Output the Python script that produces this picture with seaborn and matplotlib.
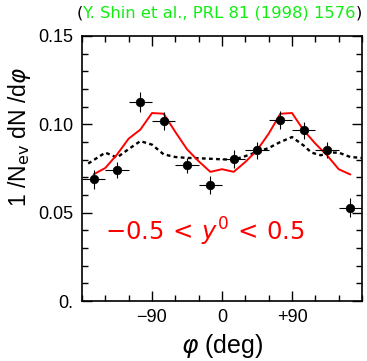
import numpy as np
import pandas as pd
import seaborn as sns
import matplotlib.pyplot as plt
from matplotlib.ticker import FixedLocator, MultipleLocator, FuncFormatter

# data points (Shin et al.)
phi_pts = [-165, -135, -105, -75, -45, -15, 15, 45, 75, 105, 135, 165]
dn_pts = [0.0688, 0.0744, 0.1126, 0.1019, 0.0767, 0.0655, 0.0804, 0.0853, 0.1023, 0.0966, 0.0857, 0.0529]
err_x = [15] * 12
err_y = [0.0052, 0.0045, 0.0055, 0.0052, 0.0045, 0.0050, 0.0050, 0.0048, 0.0050, 0.0050, 0.0045, 0.0052]

# model (red solid)
phi_red = [-165, -150, -135, -120, -105, -90, -75, -60, -45, -30, -15, 0,
           15, 30, 45, 60, 75, 90, 105, 120, 135, 150, 165]
dn_red = [0.0717, 0.0753, 0.0829, 0.0919, 0.0970, 0.1064, 0.1060, 0.0957, 0.0859, 0.0791, 0.0731, 0.0746,
          0.0731, 0.0787, 0.0853, 0.0947, 0.1060, 0.1064, 0.0966, 0.0891, 0.0825, 0.0746, 0.0716]

# model (black dotted)
phi_dot = [-172, -150, -135, -120, -105, -90, -75, -60, -45, -30, -15, 0,
           15, 30, 45, 60, 75, 90, 105, 115, 127, 140, 150, 165, 180]
dn_dot = [0.0778, 0.0840, 0.0812, 0.0860, 0.0905, 0.0885, 0.0830, 0.0815, 0.0810, 0.0808, 0.0805, 0.0802,
          0.0800, 0.0820, 0.0844, 0.0866, 0.0900, 0.0928, 0.0880, 0.0840, 0.0825, 0.0840, 0.0840, 0.0815, 0.0810]

df_pts = pd.DataFrame({'phi': phi_pts, 'dn': dn_pts})
df_red = pd.DataFrame({'phi': phi_red, 'dn': dn_red})
df_dot = pd.DataFrame({'phi': phi_dot, 'dn': dn_dot})

sns.set_style('ticks')
plt.rcParams['font.family'] = ['Liberation Sans', 'DejaVu Sans']
plt.rcParams['mathtext.fontset'] = 'dejavusans'
plt.rcParams['text.color'] = 'black'
plt.rcParams['axes.labelcolor'] = 'black'
plt.rcParams['xtick.color'] = 'black'
plt.rcParams['ytick.color'] = 'black'

fig = plt.figure(figsize=(3.67, 3.61), dpi=100)
ax = fig.add_axes([0.2234, 0.1662, 0.763, 0.7341])

sns.lineplot(data=df_dot, x='phi', y='dn', ax=ax, color='black', linewidth=1.7,
             linestyle=(0, (1.6, 1.4)), sort=False)
sns.lineplot(data=df_red, x='phi', y='dn', ax=ax, color='red', linewidth=1.4, sort=False)
ax.errorbar(phi_pts, dn_pts, xerr=err_x, yerr=err_y, fmt='none', ecolor='black', elinewidth=0.8)
sns.scatterplot(data=df_pts, x='phi', y='dn', ax=ax, color='black', s=38, edgecolor='black', zorder=5)

ax.set_xlim(-180, 180)
ax.set_ylim(0, 0.15)
ax.xaxis.set_major_locator(FixedLocator([-90, 0, 90]))
ax.xaxis.set_minor_locator(MultipleLocator(30))
ax.xaxis.set_major_formatter(FuncFormatter(lambda v, p: {-90: '\u221290', 0: '0', 90: '+90'}.get(int(round(v)), '')))
ax.yaxis.set_major_locator(MultipleLocator(0.05))
ax.yaxis.set_minor_locator(MultipleLocator(0.01))
ax.yaxis.set_major_formatter(FuncFormatter(lambda v, p: '0.' if abs(v) < 1e-9 else f'{v:.2f}'))

ax.tick_params(which='both', direction='in', top=True, right=True, labelsize=13, width=1)
ax.tick_params(which='major', length=7, pad=6)
ax.tick_params(which='minor', length=4)
for s in ax.spines.values():
    s.set_linewidth(1.2)
    s.set_color('black')

ax.set_xlabel(r'$\varphi$ (deg)', fontsize=18)
ax.xaxis.set_label_coords(0.5, -0.118)
ax.set_ylabel(r'1 /N$_{\rm ev}$ dN /d$\varphi$', fontsize=16.5)
ax.yaxis.set_label_coords(-0.175, 0.617)

ax.text(0.082, 0.26, r'$-0.5\,<\,y^0\,<\,0.5$', transform=ax.transAxes, color='red', fontsize=17.5,
        ha='left', va='center')

close = fig.text(0.987, 0.965, ')', color='black', fontsize=11.8, ha='right', va='center',
                 family='DejaVu Sans')
body = ax.annotate('Y. Shin et al., PRL 81 (1998) 1576', xy=(0, 0.5), xycoords=close, color='#11ee11',
                   fontsize=11.8, ha='right', va='center', family='DejaVu Sans', annotation_clip=False)
ax.annotate('(', xy=(0, 0.5), xycoords=body, color='black', fontsize=11.8, ha='right', va='center',
            family='DejaVu Sans', annotation_clip=False)

fig.savefig('out.png', dpi=100)
